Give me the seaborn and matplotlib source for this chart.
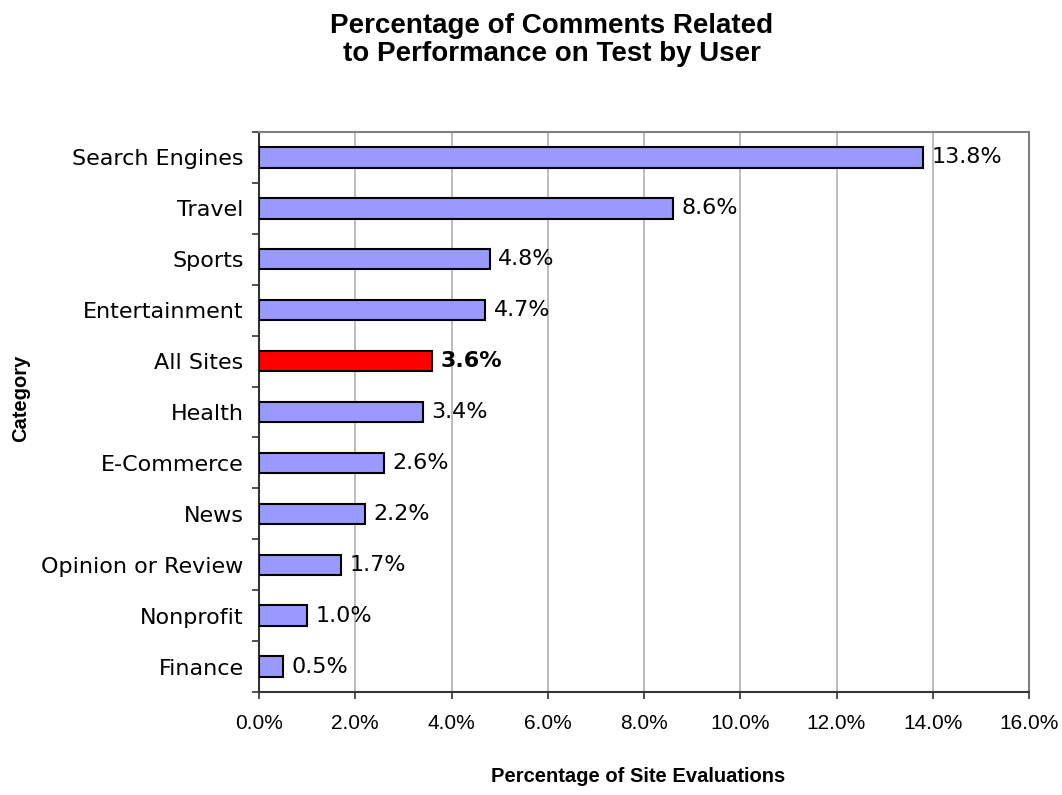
import matplotlib
matplotlib.use("Agg")
import matplotlib.pyplot as plt
import seaborn as sns
import pandas as pd
import numpy as np
from matplotlib.ticker import FixedLocator

categories = ["Search Engines", "Travel", "Sports", "Entertainment", "All Sites",
              "Health", "E-Commerce", "News", "Opinion or Review", "Nonprofit", "Finance"]
values = [13.8, 8.6, 4.8, 4.7, 3.6, 3.4, 2.6, 2.2, 1.7, 1.0, 0.5]
highlight = "All Sites"
x_ticks = [0, 2, 4, 6, 8, 10, 12, 14, 16]

sns.set_theme(style="white")
plt.rcParams['font.family'] = ['DejaVu Sans']

df = pd.DataFrame({"Category": categories, "Value": values})
df["Group"] = np.where(df["Category"] == highlight, "hl", "normal")

fig = plt.figure(figsize=(10.62, 7.95), dpi=100)
ax = fig.add_axes([259/1062, 1 - 692/795, (1029-259)/1062, (692-132)/795])

sns.barplot(data=df, y="Category", x="Value", hue="Group", orient="h",
            palette={"normal": "#9999ff", "hl": "#ff0000"}, dodge=False, saturation=1,
            width=0.4, edgecolor="black", linewidth=1.5, legend=False, ax=ax, zorder=3)

ax.set_xlim(0, 16)
ax.set_ylim(len(categories) - 0.5, -0.5)
ax.set_xticks(x_ticks)
ax.set_xticklabels([f"{t:.1f}%" for t in x_ticks], family="Liberation Sans", fontsize=15, color="black")
ax.xaxis.grid(True, color="#b0b0b0", linewidth=1.2, zorder=0)
ax.yaxis.grid(False)
ax.set_axisbelow(True)

ax.set_yticks(range(len(categories)))
ax.set_yticklabels(categories, fontsize=16, color="black")
ax.yaxis.set_minor_locator(FixedLocator(np.arange(-0.5, len(categories), 1)))
ax.tick_params(axis="y", which="major", length=0, pad=11)
ax.tick_params(axis="y", which="minor", length=5, width=1.2, color="#333333", direction="out", left=True)
ax.tick_params(axis="x", which="major", length=5, width=1.2, color="#333333", direction="out", bottom=True, pad=11)

for side in ["top", "right"]:
    ax.spines[side].set_color("#808080")
    ax.spines[side].set_linewidth(1.5)
for side in ["left", "bottom"]:
    ax.spines[side].set_color("#333333")
    ax.spines[side].set_linewidth(1.5)

for i, (c, v) in enumerate(zip(categories, values)):
    ax.annotate(f"{v:.1f}%", xy=(v, i), xytext=(6, 0), textcoords="offset points",
                va="center", ha="left", fontsize=16, color="black",
                fontweight="bold" if c == highlight else "normal")

ax.set_xlabel("")
ax.set_ylabel("")
fig.text(638/1062, 1 - 777/795, "Percentage of Site Evaluations", family="Liberation Sans",
         fontweight="bold", fontsize=14.5, ha="center", va="center", color="black")
fig.text(21/1062, 1 - 398/795, "Category", family="Liberation Sans", fontweight="bold",
         fontsize=14.5, rotation=90, ha="center", va="center", color="black")

fig.text(552/1062, 1 - 13/795, "Percentage of Comments Related\nto Performance on Test by User",
         family="Liberation Sans", fontweight="bold", fontsize=20, ha="center", va="top",
         linespacing=1.1, color="black")

fig.savefig("out.png", dpi=100)
